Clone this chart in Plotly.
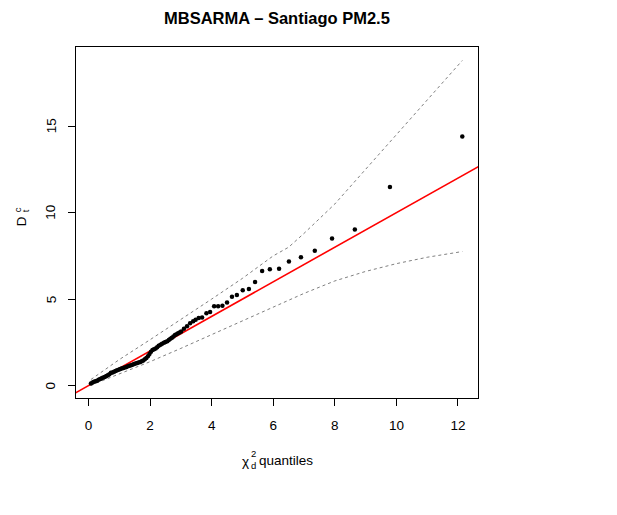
import plotly.graph_objects as go

# ---- data ----
chi2_quantiles = [0.08, 0.13, 0.18, 0.23, 0.28, 0.33, 0.38, 0.43, 0.48, 0.53, 0.58, 0.63, 0.68, 0.73,
                  0.78, 0.83, 0.88, 0.93, 0.98, 1.03, 1.08, 1.13, 1.18, 1.23, 1.28, 1.33, 1.38, 1.43,
                  1.48, 1.53, 1.58, 1.63, 1.68, 1.73, 1.78, 1.83, 1.88, 1.93, 1.98, 2.03, 2.08, 2.13,
                  2.18, 2.23, 2.28, 2.34, 2.39, 2.45, 2.50, 2.56, 2.61, 2.66, 2.71, 2.76, 2.81, 2.86,
                  2.91, 2.96, 3.01, 3.10, 3.20, 3.30, 3.40, 3.48, 3.58, 3.69, 3.83, 3.95, 4.08, 4.21,
                  4.35, 4.50, 4.66, 4.82, 5.01, 5.21, 5.41, 5.64, 5.89, 6.19, 6.51, 6.90, 7.35, 7.91,
                  8.65, 9.79, 12.14]
distances = [0.12, 0.18, 0.22, 0.25, 0.28, 0.33, 0.38, 0.42, 0.46, 0.50, 0.55, 0.60, 0.66, 0.74,
             0.76, 0.80, 0.84, 0.88, 0.92, 0.95, 0.98, 1.02, 1.05, 1.08, 1.12, 1.15, 1.18, 1.21,
             1.24, 1.27, 1.30, 1.33, 1.36, 1.40, 1.45, 1.52, 1.60, 1.70, 1.82, 1.95, 2.05, 2.10,
             2.15, 2.22, 2.30, 2.36, 2.42, 2.47, 2.52, 2.56, 2.64, 2.70, 2.77, 2.84, 2.92, 2.97,
             3.03, 3.07, 3.12, 3.28, 3.43, 3.60, 3.72, 3.80, 3.91, 3.93, 4.18, 4.26, 4.58, 4.58,
             4.62, 4.80, 5.13, 5.24, 5.51, 5.59, 5.99, 6.63, 6.72, 6.76, 7.17, 7.42, 7.80, 8.50,
             9.03, 11.49, 14.40]

env_x = [0.08, 1, 2, 3, 4, 5, 6, 6.5, 7, 8, 9, 10, 11, 12.14]
env_upper = [0.35, 1.5, 2.65, 3.8, 5.0, 6.2, 7.5, 8.0, 8.8, 10.5, 12.5, 14.5, 16.5, 18.8]
env_lower = [0.02, 0.68, 1.38, 2.15, 2.95, 3.75, 4.55, 4.95, 5.33, 6.05, 6.6, 7.05, 7.42, 7.75]

ref_intercept = 0.0
ref_slope = 1.0

x_ticks = [0, 2, 4, 6, 8, 10, 12]
y_ticks = [0, 5, 10, 15]

# ---- figure ----
FONT = "Liberation Sans, Arial, Helvetica, sans-serif"
x_range = [-0.405, 12.65]
y_range = [-0.72, 19.58]

fig = go.Figure()
for env in (env_upper, env_lower):
    fig.add_trace(go.Scatter(x=env_x, y=env, mode="lines",
                             line=dict(color="#808080", width=1, dash="3px,3px"),
                             hoverinfo="skip", showlegend=False))

ref_x = [x_range[0] - 1, x_range[1] + 1]
ref_y = [ref_intercept + ref_slope * v for v in ref_x]
fig.add_trace(go.Scatter(x=ref_x, y=ref_y, mode="lines",
                         line=dict(color="#ff0000", width=1.6), showlegend=False))

fig.add_trace(go.Scatter(x=chi2_quantiles, y=distances, mode="markers",
                         marker=dict(color="black", size=4.5), showlegend=False))

axis_common = dict(showgrid=False, zeroline=False, showline=True, linecolor="black",
                   linewidth=1, mirror=True, ticks="outside", ticklen=7, tickwidth=1,
                   tickcolor="black", tickfont=dict(family=FONT, size=13.5, color="black"))
fig.update_xaxes(range=x_range, tickvals=x_ticks, ticklabelstandoff=8, **axis_common)
fig.update_yaxes(range=y_range, tickvals=y_ticks, showticklabels=False, **axis_common)

L, R, T, B = 75.5, 478, 47.3, 398.5
W, H = 617, 515

def px(x):
    return (x - L) / (R - L)

def py(y):
    return (B - y) / (B - T)

ann = []
# y tick labels, rotated parallel to the axis (R style)
for v in y_ticks:
    ann.append(dict(text=str(v), x=px(50.5), y=v, xref="paper", yref="y", showarrow=False,
                    textangle=-90, font=dict(family=FONT, size=13.5, color="black"),
                    xanchor="center", yanchor="middle"))
# title
ann.append(dict(text="<b>MBSARMA – Santiago PM2.5</b>", x=px(276.5), y=py(18), xref="paper",
                yref="paper", showarrow=False, font=dict(family=FONT, size=16.5, color="black"),
                xanchor="center", yanchor="middle"))
# x axis title: chi^2_d quantiles
ann.append(dict(text="χ", x=px(251), y=py(462), xref="paper", yref="paper", showarrow=False,
                font=dict(family=FONT, size=13.5, color="black"), xanchor="right", yanchor="middle"))
ann.append(dict(text="2", x=px(253.5), y=py(454.5), xref="paper", yref="paper", showarrow=False,
                font=dict(family=FONT, size=9.5, color="black"), xanchor="center", yanchor="middle"))
ann.append(dict(text="d", x=px(253.5), y=py(466), xref="paper", yref="paper", showarrow=False,
                font=dict(family=FONT, size=9.5, color="black"), xanchor="center", yanchor="middle"))
ann.append(dict(text="quantiles", x=px(256.5), y=py(461.5), xref="paper", yref="paper", showarrow=False,
                font=dict(family=FONT, size=13.5, color="black"), xanchor="left", yanchor="middle"))
# y axis title: D_t^c
ann.append(dict(text="D", x=px(20.5), y=py(221.5), xref="paper", yref="paper", showarrow=False,
                textangle=-90, font=dict(family=FONT, size=13.5, color="black"),
                xanchor="center", yanchor="middle"))
ann.append(dict(text="c", x=px(16.5), y=py(210.5), xref="paper", yref="paper", showarrow=False,
                textangle=-90, font=dict(family=FONT, size=9.5, color="black"),
                xanchor="center", yanchor="middle"))
ann.append(dict(text="t", x=px(24.5), y=py(211.5), xref="paper", yref="paper", showarrow=False,
                textangle=-90, font=dict(family=FONT, size=9.5, color="black"),
                xanchor="center", yanchor="middle"))

fig.update_layout(width=W, height=H, margin=dict(l=L, r=W - R, t=T, b=H - B),
                  plot_bgcolor="white", paper_bgcolor="white", annotations=ann,
                  font=dict(family=FONT, color="black"))

fig.write_html("out.html")
